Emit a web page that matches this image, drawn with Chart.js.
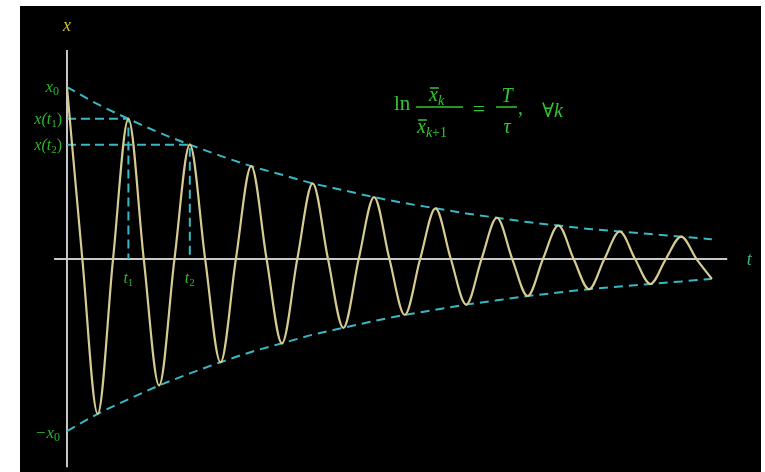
<!DOCTYPE html>
<html>
<head>
<meta charset="utf-8">
<script src="https://cdn.jsdelivr.net/npm/chart.js@4/dist/chart.umd.min.js"></script>
<style>
  html, body { margin: 0; padding: 0; background: #fff; }
  #wrap { position: absolute; left: 20px; top: 6px; width: 741px; height: 466px; background: #000; }
</style>
</head>
<body>
<div id="wrap"><canvas id="decay" width="741" height="466"></canvas></div>
<script>
// time in periods T, displacement in units of x0
const peakTimes = [0, 0.5, 1, 1.5, 2, 2.5, 3, 3.5, 4, 4.5, 5, 5.5, 6, 6.5, 7, 7.5, 8, 8.5, 9, 9.5, 10, 10.5];
const peakValues = [1.0, -0.9, 0.815, -0.735, 0.665, -0.6, 0.54, -0.49, 0.44, -0.4, 0.36, -0.325,
                    0.295, -0.265, 0.24, -0.215, 0.195, -0.175, 0.16, -0.145, 0.13, -0.115];
const zeroTimes = [0.25, 0.75, 1.25, 1.75, 2.25, 2.75, 3.25, 3.75, 4.25, 4.75, 5.25, 5.75,
                   6.25, 6.75, 7.25, 7.75, 8.25, 8.75, 9.25, 9.75, 10.25];
const markTimes = [1, 2];
const markLabels = ['1', '2'];
const timeAxis = [-0.21, 10.75];
const dispAxis = [-1.21, 1.215];

const wave = [];
peakTimes.forEach((t, i) => {
  wave.push({ x: t, y: peakValues[i] });
  if (i < zeroTimes.length) wave.push({ x: zeroTimes[i], y: 0 });
});
const upper = peakTimes.map((t, i) => ({ x: t, y: Math.abs(peakValues[i]) }));
const lower = peakTimes.map((t, i) => ({ x: t, y: -Math.abs(peakValues[i]) }));

const CYAN = '#38b8c4';
const GREEN = '#2db52d';
const SERIF = '"Liberation Serif", "DejaVu Serif", serif';

function guide(i) {
  const t = markTimes[i];
  const v = peakValues[peakTimes.indexOf(t)];
  return {
    data: [{ x: 0, y: v }, { x: t, y: v }, { x: t, y: 0 }],
    borderColor: CYAN, borderWidth: 2, borderDash: [9, 5], tension: 0
  };
}

// draws a row of text runs, each with its own font and vertical shift
function runs(ctx, list, x, y, align) {
  let w = 0;
  list.forEach(r => { ctx.font = r.f; w += ctx.measureText(r.t).width; });
  let cx = align === 'right' ? x - w : align === 'center' ? x - w / 2 : x;
  const pos = [];
  list.forEach(r => {
    ctx.font = r.f;
    ctx.fillText(r.t, cx, y + (r.dy || 0));
    const mw = ctx.measureText(r.t).width;
    pos.push([cx, mw]);
    cx += mw;
  });
  return pos;
}

const labels = {
  id: 'labels',
  afterDraw(chart) {
    const ctx = chart.ctx;
    const xs = chart.scales.x, ys = chart.scales.y;
    const it = n => 'italic ' + n + 'px ' + SERIF;
    const rm = n => n + 'px ' + SERIF;
    ctx.save();
    ctx.textBaseline = 'alphabetic';
    const x0 = xs.getPixelForValue(0);

    // axis names
    ctx.fillStyle = '#c9c032';
    runs(ctx, [{ t: 'x', f: it(18) }], x0, ys.getPixelForValue(dispAxis[1]) - 19, 'center');
    ctx.fillStyle = '#36b48a';
    runs(ctx, [{ t: 't', f: it(18) }], xs.getPixelForValue(timeAxis[1]) + 22, ys.getPixelForValue(0) + 6, 'center');

    // level labels on the x axis
    ctx.fillStyle = GREEN;
    runs(ctx, [{ t: 'x', f: it(17) }, { t: '0', f: rm(12), dy: 3 }], x0 - 8, ys.getPixelForValue(peakValues[0]) + 5, 'right');
    runs(ctx, [{ t: '−x', f: it(17) }, { t: '0', f: rm(12), dy: 3 }], x0 - 7, ys.getPixelForValue(-peakValues[0]) + 7, 'right');
    markTimes.forEach((t, i) => {
      const v = peakValues[peakTimes.indexOf(t)];
      runs(ctx, [{ t: 'x(', f: it(16) }, { t: 't', f: it(16) }, { t: markLabels[i], f: rm(11), dy: 3 }, { t: ')', f: rm(16) }],
        x0 - 5, ys.getPixelForValue(v) + 5, 'right');
      runs(ctx, [{ t: 't', f: it(16) }, { t: markLabels[i], f: rm(11), dy: 3 }],
        xs.getPixelForValue(t), ys.getPixelForValue(0) + 24, 'center');
    });

    // ln( x_k / x_{k+1} ) = T / tau, for all k
    ctx.fillStyle = '#33c433';
    ctx.strokeStyle = '#33c433';
    ctx.lineWidth = 1.4;
    runs(ctx, [{ t: 'ln', f: rm(21) }], 374, 104, 'left');
    const num = runs(ctx, [{ t: 'x', f: it(20) }, { t: 'k', f: it(14), dy: 4 }], 409, 95, 'left');
    const den = runs(ctx, [{ t: 'x', f: it(20) }, { t: 'k', f: it(14), dy: 4 }, { t: '+1', f: rm(14), dy: 4 }], 397, 127, 'left');
    ctx.beginPath();
    ctx.moveTo(num[0][0] + 1, 82); ctx.lineTo(num[0][0] + num[0][1] + 1, 82);
    ctx.moveTo(den[0][0] + 1, 114); ctx.lineTo(den[0][0] + den[0][1] + 1, 114);
    ctx.moveTo(396, 101); ctx.lineTo(443, 101);
    ctx.moveTo(476, 101); ctx.lineTo(497, 101);
    ctx.stroke();
    runs(ctx, [{ t: '=', f: rm(22) }], 459, 110, 'center');
    runs(ctx, [{ t: 'T', f: it(20) }], 487, 96, 'center');
    runs(ctx, [{ t: 'τ', f: it(20) }], 487, 127, 'center');
    runs(ctx, [{ t: ',', f: rm(20) }], 498, 108, 'left');
    runs(ctx, [{ t: '∀', f: rm(20) }, { t: 'k', f: it(20) }], 522, 111, 'left');
    ctx.restore();
  }
};

new Chart(document.getElementById('decay'), {
  type: 'line',
  data: {
    datasets: [
      { data: wave, borderColor: '#d6cc92', borderWidth: 2.2, cubicInterpolationMode: 'monotone' },
      { data: upper, borderColor: CYAN, borderWidth: 2, borderDash: [9, 6], cubicInterpolationMode: 'monotone' },
      { data: lower, borderColor: CYAN, borderWidth: 2, borderDash: [9, 6], cubicInterpolationMode: 'monotone' },
      guide(0),
      guide(1),
      { data: [{ x: timeAxis[0], y: 0 }, { x: timeAxis[1], y: 0 }], borderColor: '#c8c8c8', borderWidth: 2, tension: 0 },
      { data: [{ x: 0, y: dispAxis[0] }, { x: 0, y: dispAxis[1] }], borderColor: '#c8c8c8', borderWidth: 2, tension: 0 }
    ]
  },
  options: {
    responsive: false,
    animation: false,
    parsing: false,
    layout: { padding: 0 },
    elements: { point: { radius: 0, hoverRadius: 0 } },
    plugins: { legend: { display: false }, tooltip: { enabled: false } },
    scales: {
      x: { type: 'linear', min: -0.765, max: 11.3, display: false },
      y: { type: 'linear', min: -1.238, max: 1.471, display: false }
    }
  },
  plugins: [labels]
});
</script>
</body>
</html>
